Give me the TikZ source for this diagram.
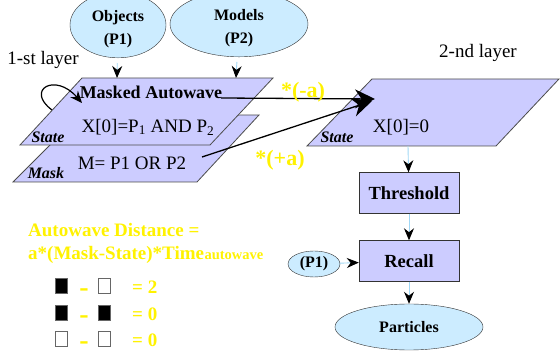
\documentclass[tikz,border=0pt]{standalone}
\usepackage{fontspec}
\setmainfont{Liberation Serif}
\usetikzlibrary{arrows.meta,shapes.geometric}

\definecolor{lav}{RGB}{204,204,255}
\definecolor{sky}{RGB}{204,236,255}
\definecolor{pale}{RGB}{160,215,245}

\begin{document}
\begin{tikzpicture}[x=1pt,y=-1pt,>={Stealth[black,length=12pt,width=10pt]},
	layer/.style={fill=lav,draw=black!70,line width=0.8pt},
	oval/.style={ellipse,draw=black!80,fill=sky,inner sep=0pt,align=center,font=\fontsize{16}{18}\selectfont\bfseries},
	box/.style={rectangle,draw=black!80,fill=lav,minimum width=100pt,minimum height=41pt,font=\fontsize{18.5}{20}\selectfont\bfseries},
	link/.style={->,draw=pale,line width=0.9pt},
	big/.style={-{Stealth[black,length=20pt,width=19pt]},line width=1.3pt},
	txt/.style={inner sep=0pt,font=\fontsize{19}{20}\selectfont},
	ital/.style={inner sep=0pt,font=\fontsize{16}{18}\selectfont\bfseries\itshape},
	ylw/.style={inner sep=0pt,text=yellow,font=\fontsize{19}{20}\selectfont\bfseries},
	cell/.style={rectangle,draw=black!60,minimum width=12pt,minimum height=15pt,inner sep=0pt}]
	\useasboundingbox (0,0) rectangle (560,352);

	% layers
	\filldraw[layer] (13,182) -- (80,115) -- (259,115) -- (197,182) -- cycle;
	\filldraw[layer] (20,145) -- (82,78) -- (273,78) -- (210,145) -- cycle;
	\filldraw[layer] (307,146) -- (372,79) -- (559,79) -- (496,146) -- cycle;

	% inputs
	\node[oval,minimum width=96pt,minimum height=50pt] (obj) at (118,25) {\rule{0pt}{20pt}Objects\\[5pt](P1)};
	\node[oval,minimum width=138pt,minimum height=48pt] (mod) at (239,24) {\rule{0pt}{20pt}Models\\[5pt](P2)};

	\node[txt] (lay1) at (43,60) {1-st layer};
	\node[txt] (lay2) at (478,53) {2-nd layer};

	% 1-st layer
	\node[txt,font=\fontsize{18}{20}\selectfont\bfseries] (maw) at (151,92) {Masked Autowave};
	\node[txt] (xs1) at (148,127) {X[0]=P\textsubscript{1} AND P\textsubscript{2}};
	\node[ital] (st1) at (48,137) {State};
	\node[txt] (msk) at (132,163) {M= P1 OR P2};
	\node[ital] (mk) at (46,173) {Mask};

	% 2-nd layer
	\node[txt] (xs2) at (401,127) {X[0]=0};
	\node[ital] (st2) at (337,137) {State};

	\node[box] (thr) at (409,193) {Threshold};
	\node[box] (rec) at (409,261) {Recall};
	\node[oval,minimum width=52pt,minimum height=26pt] (p1) at (314,264) {(P1)};
	\node[oval,minimum width=148pt,minimum height=46pt] (part) at (409,327) {Particles};

	\coordinate (in1) at (117,78);
	\coordinate (in2) at (236,78);
	\coordinate (out2) at (408,146);
	\draw[link,shorten <=5pt] (obj) -- (in1);
	\draw[link,shorten <=5pt] (mod) -- (in2);
	\draw[link] (out2) -- (thr);
	\draw[link] (thr) -- (rec);
	\draw[link] (p1) -- (rec);
	\draw[link] (rec) -- (part);

	% self loop
	\coordinate (lpa) at (52,110);
	\coordinate (lpb) at (82,103);
	\draw[->,line width=1.2pt] (lpa) .. controls (25,90) and (55,72) .. (lpb);

	% autowave links
	\coordinate (a1) at (221,98);
	\coordinate (a2) at (202,157);
	\coordinate (tip1) at (375,99);
	\coordinate (tip2) at (372,101);
	\draw[big] (a1) -- (tip1);
	\draw[big] (a2) -- (tip2);
	\node[ylw,font=\fontsize{22}{24}\selectfont\bfseries] (neg) at (303,92) {*(-a)};
	\node[ylw,font=\fontsize{22}{24}\selectfont\bfseries] (pos) at (280,160) {*(+a)};

	% distance
	\node[ylw,anchor=west] (dist) at (28,230) {Autowave Distance =};
	\node[ylw,anchor=west] (form) at (28,255) {a*(Mask-State)*Time};
	\node[ylw,anchor=base west,font=\fontsize{14.5}{16}\selectfont\bfseries] (sub) at (form.base east) {autowave};

	\foreach \y/\lc/\rc/\v in {286/black/white/2,313/black/black/0,339/white/white/0}{
		\node[cell,fill=\lc] (l\y) at (61,\y) {};
		\node[ylw,font=\fontsize{28}{28}\selectfont\bfseries] (d\y) at (84,\y+7) {-};
		\node[cell,fill=\rc] (r\y) at (104,\y) {};
		\node[ylw,anchor=west] (v\y) at (132,\y+1) {= \v};
	}
\end{tikzpicture}
\end{document}
